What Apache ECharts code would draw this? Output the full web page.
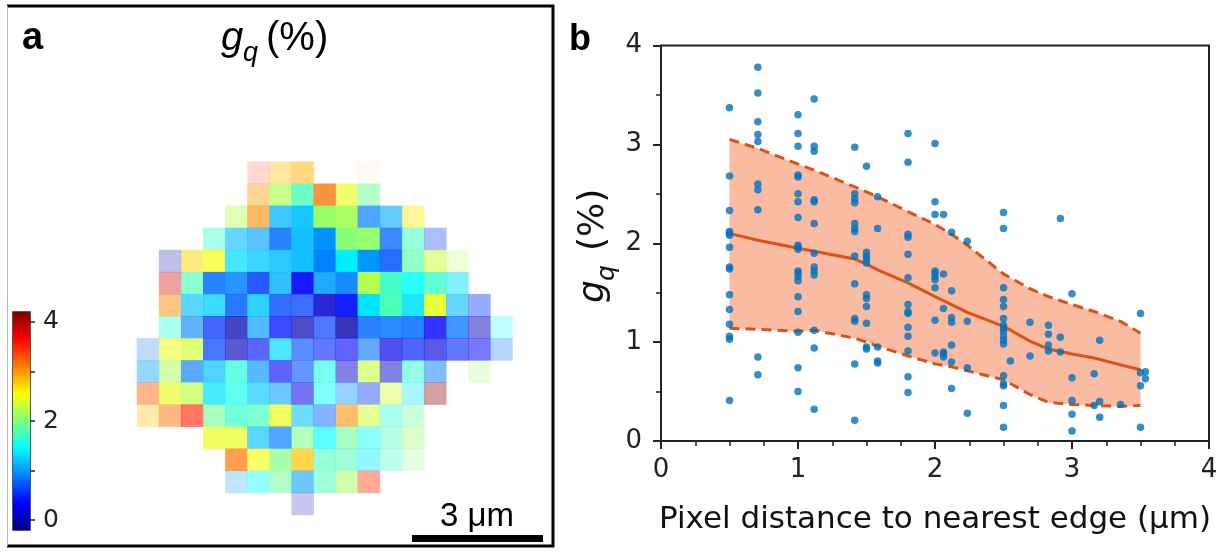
<!DOCTYPE html>
<html>
<head>
<meta charset="utf-8">
<script src="https://cdn.jsdelivr.net/npm/echarts@6/dist/echarts.min.js"></script>
<style>
html, body { margin: 0; padding: 0; background: #fff; }
#chart { width: 1228px; height: 559px; }
</style>
</head>
<body>
<div id="chart"></div>
<script>
// jet colour ramp, evenly spaced from low to high
const jetColors = ['#00007f', '#0000ff', '#007fff', '#00ffff', '#7fff7f', '#ffff00', '#ff7f00', '#ff0000', '#7f0000'];
const gqRange = [-0.2, 4.2];
const colorbarLabels = [0, 2, 4];
const colorbarTicks = [0, 1, 2, 3, 4];

// g_q map (%), one row per pixel row, null outside the flake
const gqMap = [
  [null, null, null, null, null, 3.49, 2.84, 2.88, null, null, 3.10, null, null, null, null, null, null],
  [null, null, null, null, null, 2.99, 2.20, 1.75, 3.16, 2.44, 1.91, null, null, null, null, null, null],
  [null, null, null, null, 2.23, 3.05, 1.14, 1.19, 2.11, 2.17, 0.90, 1.07, 2.66, null, null, null, null],
  [null, null, null, 1.66, 1.16, 1.05, 0.81, 1.16, 0.99, 2.04, 2.09, 0.80, 1.73, 0.61, null, null, null],
  [null, 0.02, 2.73, 2.52, 1.31, 1.22, 1.18, 1.16, 0.91, 1.38, 1.00, 0.70, 1.82, 2.34, 2.22, null, null],
  [null, 3.82, 1.76, 0.81, 0.91, 0.60, 1.10, 0.35, 1.03, 0.91, 2.22, 1.70, 1.45, 1.69, 1.32, null, null],
  [null, 3.08, 1.19, 1.25, 0.76, 1.22, 0.67, 0.63, 0.13, 0.41, 1.34, 1.77, 1.33, 2.44, 1.16, 0.56, null],
  [null, 1.62, 0.92, 0.54, 0.02, 1.04, 0.41, 0.02, 0.60, 0.00, 0.81, 0.86, 0.81, 0.35, 0.86, 0.04, 1.45],
  [0.85, 2.47, 2.35, 0.65, 0.05, 0.43, 1.30, 0.69, 0.49, 0.35, 0.85, 0.25, 0.48, 0.19, 0.49, 0.35, 0.86],
  [1.03, 2.17, 0.89, 1.18, 1.60, 0.99, 0.33, 0.71, 1.56, 0.13, 2.31, 0.13, 1.66, 0.88, null, 2.10, null],
  [3.27, 2.44, 2.26, 1.33, 1.54, 1.22, 1.03, 0.26, 1.45, 0.98, 0.56, 2.37, 1.32, 4.15, null, null, null],
  [2.81, 3.17, 3.51, 1.92, 1.67, 1.74, 2.46, 1.19, 0.79, 3.05, 2.34, 1.62, 1.88, null, null, null, null],
  [null, null, null, 2.45, 2.45, 1.19, 0.90, 1.97, 1.45, 1.92, 1.45, 1.73, 2.12, null, null, null, null],
  [null, null, null, null, 3.14, 2.52, 2.00, 2.80, 1.73, 1.75, 1.35, 1.66, 2.00, null, null, null, null],
  [null, null, null, null, 1.02, 1.45, 1.91, 1.03, 1.75, 2.17, 3.44, null, null, null, null, null, null],
  [null, null, null, null, null, null, null, 0.05, null, null, null, null, null, null, null, null, null]
];

// per-pixel opacity of the map
const alphaMap = [
  [null, null, null, null, null, 0.18, 0.37, 0.49, null, null, 0.04, null, null, null, null, null, null],
  [null, null, null, null, null, 0.41, 0.68, 0.80, 0.76, 0.62, 0.50, null, null, null, null, null, null],
  [null, null, null, null, 0.41, 0.61, 0.76, 0.92, 1.00, 0.92, 0.69, 0.60, 0.41, null, null, null, null],
  [null, null, null, 0.41, 0.60, 0.65, 0.84, 0.92, 1.00, 1.00, 0.97, 0.76, 0.55, 0.33, null, null, null],
  [null, 0.25, 0.49, 0.67, 0.73, 0.76, 0.84, 0.92, 1.00, 1.00, 1.00, 0.84, 0.63, 0.51, 0.20, null, null],
  [null, 0.37, 0.63, 0.84, 0.84, 0.84, 0.80, 0.90, 0.88, 0.92, 0.98, 0.94, 0.84, 0.80, 0.49, null, null],
  [null, 0.49, 0.65, 0.76, 0.84, 0.84, 0.80, 0.76, 0.84, 0.92, 1.00, 1.00, 0.88, 0.86, 0.60, 0.41, null],
  [null, 0.39, 0.61, 0.73, 0.73, 0.69, 0.76, 0.70, 0.69, 0.80, 0.84, 0.84, 0.84, 0.80, 0.76, 0.49, 0.25],
  [0.25, 0.53, 0.65, 0.73, 0.65, 0.65, 0.69, 0.65, 0.61, 0.61, 0.61, 0.69, 0.69, 0.65, 0.61, 0.53, 0.29],
  [0.41, 0.51, 0.65, 0.69, 0.70, 0.65, 0.62, 0.61, 0.59, 0.49, 0.58, 0.49, 0.52, 0.49, null, 0.23, null],
  [0.45, 0.62, 0.66, 0.73, 0.68, 0.65, 0.57, 0.55, 0.49, 0.41, 0.41, 0.40, 0.33, 0.37, null, null, null],
  [0.33, 0.49, 0.61, 0.59, 0.69, 0.68, 0.70, 0.57, 0.49, 0.57, 0.51, 0.39, 0.35, null, null, null, null],
  [null, null, null, 0.67, 0.67, 0.65, 0.69, 0.55, 0.65, 0.59, 0.45, 0.39, 0.35, null, null, null, null],
  [null, null, null, null, 0.69, 0.62, 0.67, 0.69, 0.55, 0.51, 0.41, 0.31, 0.20, null, null, null, null],
  [null, null, null, null, 0.25, 0.41, 0.50, 0.57, 0.51, 0.51, 0.41, null, null, null, null, null, null],
  [null, null, null, null, null, null, null, 0.22, null, null, null, null, null, null, null, null, null]
];

// pixel distance to nearest edge (um) and the g_q values found at each distance
const distances = [0.5, 0.707, 1.0, 1.118, 1.414, 1.5, 1.581, 1.803, 2.0, 2.062, 2.121, 2.236,
                   2.5, 2.55, 2.693, 2.828, 2.915, 3.0, 3.162, 3.202, 3.354, 3.5, 3.536];
const gqByDistance = [
  [3.37, 2.68, 2.33, 2.12, 2.10, 2.08, 1.96, 1.76, 1.74, 1.48, 1.33, 1.18, 1.06, 1.03, 0.41],
  [3.78, 3.52, 3.23, 3.10, 3.03, 2.60, 2.54, 2.34, 0.85, 0.67],
  [3.30, 3.11, 2.98, 2.69, 2.67, 2.50, 2.42, 2.26, 1.98, 1.96, 1.94, 1.72, 1.70, 1.66, 1.62, 1.46, 1.31, 1.10, 0.74, 0.50],
  [3.46, 2.98, 2.93, 2.44, 2.42, 2.20, 1.90, 1.76, 1.72, 1.68, 1.12, 0.94, 0.32],
  [2.97, 2.50, 2.45, 2.41, 2.20, 2.15, 2.12, 1.87, 1.59, 1.24, 1.21, 0.78, 0.21],
  [2.78, 1.91, 1.87, 1.84, 1.80, 1.48, 1.44, 1.36, 1.19, 0.95, 0.93],
  [2.47, 2.15, 0.95, 0.81, 0.79],
  [3.11, 2.82, 2.09, 2.06, 1.89, 1.65, 1.38, 1.31, 1.29, 1.15, 1.06, 0.91, 0.65, 0.49],
  [3.01, 2.42, 2.29, 1.72, 1.70, 1.66, 1.63, 1.55, 1.22, 0.89],
  [2.29, 1.69, 1.34, 0.90, 0.88, 0.85],
  [2.11, 1.52, 1.25, 1.20, 0.97, 0.80, 0.53],
  [2.02, 1.21, 0.74, 0.28],
  [2.31, 2.15, 1.55, 1.43, 1.36, 1.24, 1.17, 1.14, 1.11, 1.06, 1.02, 0.98, 0.66, 0.58, 0.56, 0.36, 0.14],
  [0.81],
  [1.20, 0.86],
  [1.17, 1.08, 0.97, 0.91],
  [2.25, 1.05, 0.90],
  [1.49, 0.64, 0.41, 0.27, 0.10],
  [0.68, 0.36],
  [1.02, 0.40, 0.24],
  [0.37],
  [1.29, 0.69, 0.56, 0.14],
  [0.70, 0.63]
];

// running mean and spread of g_q versus distance
const bandX     = [0.5, 0.707, 1.0, 1.118, 1.414, 1.5, 1.581, 1.803, 2.0, 2.121, 2.236, 2.5, 2.693, 2.828, 3.0, 3.162, 3.354, 3.5];
const bandMean  = [2.10, 2.03, 1.95, 1.92, 1.84, 1.79, 1.73, 1.60, 1.46, 1.38, 1.30, 1.16, 1.01, 0.93, 0.88, 0.84, 0.77, 0.72];
const bandUpper = [3.05, 2.96, 2.80, 2.74, 2.57, 2.52, 2.47, 2.32, 2.19, 2.09, 1.98, 1.69, 1.54, 1.46, 1.38, 1.31, 1.21, 1.09];
const bandLower = [1.14, 1.13, 1.11, 1.12, 1.04, 1.00, 0.96, 0.86, 0.78, 0.75, 0.71, 0.62, 0.47, 0.39, 0.37, 0.36, 0.35, 0.36];

const INK = '#222';
const ORANGE = '#d95319';
const BLUE = '#0072bd';
const BAND_FILL = '#f9bca3';
const DV = 'DejaVu Sans';

// map cells: [column, row, g_q, opacity]
const mapCells = [];
gqMap.forEach((row, r) => row.forEach((v, c) => {
  if (v !== null) mapCells.push([c, r, v, alphaMap[r][c]]);
}));

const scatterPoints = [];
distances.forEach((d, i) => gqByDistance[i].forEach(v => scatterPoints.push([d, v])));

const zip = ys => bandX.map((x, i) => [x, ys[i]]);

const chart = echarts.init(document.getElementById('chart'), null, { renderer: 'canvas' });

const jetGradient = () => new echarts.graphic.LinearGradient(0, 1, 0, 0,
  jetColors.map((c, i) => ({ offset: i / (jetColors.length - 1), color: c })));

const option = {
  backgroundColor: '#fff',
  animation: false,
  grid: [
    { left: 137, top: 161.7, width: 375.5, height: 353.3, show: false },
    { left: 661, top: 45.5, width: 548, height: 395.5, show: true, borderColor: INK, borderWidth: 2, backgroundColor: 'transparent' },
    { left: 13, top: 312, width: 17, height: 218, show: true, borderColor: INK, borderWidth: 1.5, backgroundColor: 'transparent' }
  ],
  xAxis: [
    { gridIndex: 0, type: 'category', data: gqMap[0].map((_, i) => i), show: false },
    {
      gridIndex: 1, type: 'value', min: 0, max: 4, interval: 1,
      axisLine: { show: true, onZero: false, lineStyle: { color: INK, width: 2 } },
      axisTick: { show: true, length: 8, lineStyle: { color: INK, width: 2 } },
      minorTick: { show: true, splitNumber: 4, length: 5, lineStyle: { color: INK, width: 1.5 } },
      splitLine: { show: false },
      axisLabel: { fontSize: 26, color: INK, fontFamily: DV, margin: 16 },
      name: 'Pixel distance to nearest edge (μm)', nameLocation: 'middle', nameGap: 63,
      nameTextStyle: { fontSize: 31, fontFamily: DV, color: '#111' }
    },
    { gridIndex: 2, type: 'category', data: [0], show: false }
  ],
  yAxis: [
    { gridIndex: 0, type: 'category', data: gqMap.map((_, i) => i), inverse: true, show: false },
    {
      gridIndex: 1, type: 'value', min: 0, max: 4, interval: 1,
      axisLine: { show: true, onZero: false, lineStyle: { color: INK, width: 2 } },
      axisTick: { show: true, length: 8, lineStyle: { color: INK, width: 2 } },
      minorTick: { show: true, splitNumber: 2, length: 5, lineStyle: { color: INK, width: 1.5 } },
      splitLine: { show: false },
      axisLabel: { fontSize: 26, color: INK, fontFamily: DV, margin: 19 }
    },
    {
      gridIndex: 2, type: 'value', min: gqRange[0], max: gqRange[1], position: 'right',
      axisLine: { show: false },
      axisTick: { show: true, length: 5, customValues: colorbarTicks, lineStyle: { color: INK, width: 1.5 } },
      axisLabel: { show: true, customValues: colorbarLabels, fontSize: 25, color: INK, fontFamily: DV, margin: 13 },
      splitLine: { show: false }
    }
  ],
  visualMap: [
    { type: 'continuous', seriesIndex: 0, dimension: 2, min: gqRange[0], max: gqRange[1], inRange: { color: jetColors }, show: false },
    { type: 'continuous', seriesIndex: 0, dimension: 3, min: 0, max: 1, inRange: { opacity: [0, 1] }, show: false }
  ],
  series: [
    {
      type: 'heatmap', xAxisIndex: 0, yAxisIndex: 0, data: mapCells,
      itemStyle: { borderWidth: 0 }, emphasis: { disabled: true }
    },
    {
      // colour bar body
      type: 'custom', xAxisIndex: 2, yAxisIndex: 2, data: [[0, gqRange[0], gqRange[1]]],
      silent: true,
      renderItem: (params, api) => {
        const top = api.coord([0, api.value(2)]);
        const bottom = api.coord([0, api.value(1)]);
        const w = api.size([1, 0])[0];
        return {
          type: 'rect',
          shape: { x: top[0] - w / 2, y: top[1], width: w, height: bottom[1] - top[1] },
          style: { fill: jetGradient() }
        };
      }
    },
    {
      // spread band between upper and lower curves
      type: 'custom', xAxisIndex: 1, yAxisIndex: 1, data: [[bandX[0], bandMean[0]]],
      silent: true, z: 1,
      renderItem: (params, api) => {
        const pts = bandX.map((x, i) => api.coord([x, bandUpper[i]]))
          .concat(bandX.map((x, i) => api.coord([x, bandLower[i]])).reverse());
        return { type: 'polygon', shape: { points: pts }, style: { fill: BAND_FILL } };
      }
    },
    {
      type: 'line', xAxisIndex: 1, yAxisIndex: 1, data: zip(bandMean), showSymbol: false, z: 2,
      lineStyle: { color: ORANGE, width: 3 }, silent: true
    },
    {
      type: 'line', xAxisIndex: 1, yAxisIndex: 1, data: zip(bandUpper), showSymbol: false, z: 2,
      lineStyle: { color: ORANGE, width: 3, type: [10, 6] }, silent: true
    },
    {
      type: 'line', xAxisIndex: 1, yAxisIndex: 1, data: zip(bandLower), showSymbol: false, z: 2,
      lineStyle: { color: ORANGE, width: 3, type: [10, 6] }, silent: true
    },
    {
      type: 'scatter', xAxisIndex: 1, yAxisIndex: 1, data: scatterPoints, z: 3,
      symbol: 'circle', symbolSize: 7.5, itemStyle: { color: BLUE }, silent: true
    }
  ],
  graphic: [
    // panel a frame
    { type: 'line', shape: { x1: 7, y1: 6, x2: 554, y2: 6 }, style: { stroke: '#000', lineWidth: 3 } },
    { type: 'line', shape: { x1: 553, y1: 5, x2: 553, y2: 547 }, style: { stroke: '#000', lineWidth: 3 } },
    { type: 'line', shape: { x1: 7, y1: 546, x2: 554, y2: 546 }, style: { stroke: '#000', lineWidth: 3 } },
    { type: 'line', shape: { x1: 7.5, y1: 6, x2: 7.5, y2: 546 }, style: { stroke: '#bbb', lineWidth: 1 } },
    // panel letters
    { type: 'text', x: 22, y: 58, style: { text: 'a', font: 'bold 38px "Liberation Sans"', fill: '#000', verticalAlign: 'bottom' } },
    { type: 'text', x: 569, y: 58, style: { text: 'b', font: 'bold 36px "Liberation Sans"', fill: '#000', verticalAlign: 'bottom' } },
    // map title g_q (%)
    { type: 'text', x: 221, y: 59, style: { text: 'g', font: 'italic 40px "Liberation Sans"', fill: '#000', verticalAlign: 'bottom' } },
    { type: 'text', x: 243, y: 67, style: { text: 'q', font: 'italic 27px "Liberation Sans"', fill: '#000', verticalAlign: 'bottom' } },
    { type: 'text', x: 266, y: 59, style: { text: '(%)', font: '40px "Liberation Sans"', fill: '#000', verticalAlign: 'bottom' } },
    // scale bar
    { type: 'rect', shape: { x: 412, y: 535, width: 131, height: 7 }, style: { fill: '#000' } },
    { type: 'text', x: 477, y: 533, style: { text: '3 μm', font: '33px "Liberation Sans"', fill: '#000', align: 'center', verticalAlign: 'bottom' } },
    // y-axis title of panel b, rotated
    {
      type: 'group', x: 612, y: 303, rotation: Math.PI / 2,
      children: [
        { type: 'text', x: 0, y: 0, style: { text: 'g', font: 'italic 36px "DejaVu Sans"', fill: '#111', verticalAlign: 'bottom' } },
        { type: 'text', x: 22, y: 8, style: { text: 'q', font: 'italic 25px "DejaVu Sans"', fill: '#111', verticalAlign: 'bottom' } },
        { type: 'text', x: 52, y: 0, style: { text: '(%)', font: '36px "DejaVu Sans"', fill: '#111', verticalAlign: 'bottom' } }
      ]
    }
  ]
};

chart.setOption(option);
</script>
</body>
</html>
